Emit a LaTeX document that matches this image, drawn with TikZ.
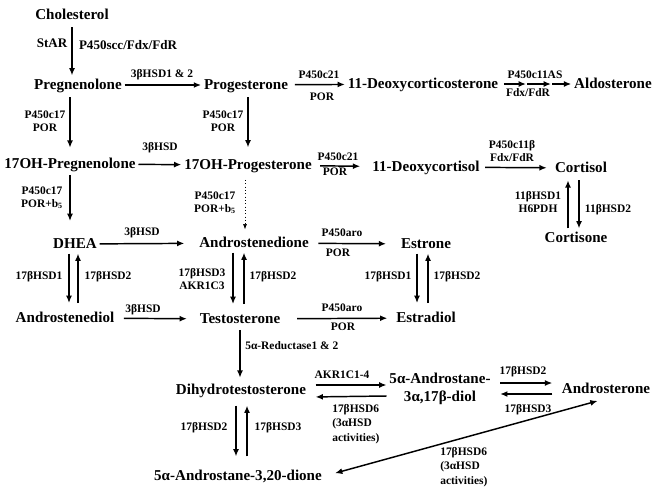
\documentclass[tikz,border=0pt]{standalone}
\usepackage{fontspec}
\setmainfont{Liberation Serif}
\usetikzlibrary{arrows.meta, positioning}

\begin{document}
\begin{tikzpicture}[
        x=0.75pt, y=-0.75pt,
        >={Latex[length=5.5pt,width=4.5pt]},
        steroid/.style={
            font=\fontsize{11.3}{13.5}\selectfont\bfseries,
            inner xsep=2pt,
            inner ysep=2pt,
            text height=8pt,
            text depth=2pt
        },
        steroidpair/.style={
            font=\fontsize{11.3}{13.5}\selectfont\bfseries,
            inner sep=2pt,
            align=center
        },
        enzyme/.style={
            font=\fontsize{8.6}{9.5}\selectfont\bfseries,
            inner sep=0pt,
            align=center
        },
        bigenzyme/.style={
            enzyme,
            font=\fontsize{9.8}{11}\selectfont\bfseries
        },
        note/.style={
            enzyme,
            font=\fontsize{8.6}{10.9}\selectfont\bfseries,
            align=left,
            anchor=west
        },
        rxn/.style={->, line width=1.1pt}
    ]
    \useasboundingbox (0,0) rectangle (656,500);

    % Steroids
    \node[steroid] (chol) at (72,15) {Cholesterol};
    \node[steroid] (preg) at (78,85) {Pregnenolone};
    \node[steroid] (prog) at (246,85) {Progesterone};
    \node[steroid] (doc) at (423,84) {11-Deoxycorticosterone};
    \node[steroid] (aldo) at (613,84) {Aldosterone};
    \node[steroid] (ohpreg) at (70,164) {17OH-Pregnenolone};
    \node[steroid] (ohprog) at (248,165) {17OH-Progesterone};
    \node[steroid] (dcort) at (426,167) {11-Deoxycortisol};
    \node[steroid] (cortisol) at (581,168) {Cortisol};
    \node[steroid] (cortisone) at (576,238) {Cortisone};
    \node[steroid] (dhea) at (75,244) {DHEA};
    \node[steroid] (andro) at (254,243) {Androstenedione};
    \node[steroid] (estrone) at (426,244) {Estrone};
    \node[steroid] (diol) at (65,318) {Androstenediol};
    \node[steroid] (testo) at (240,319) {Testosterone};
    \node[steroid] (estradiol) at (426,318) {Estradiol};
    \node[steroid] (dht) at (241,390) {Dihydrotestosterone};
    \node[steroidpair] (adiol) at (440,389) {5α-Androstane-\\3α,17β-diol};
    \node[steroid] (androst) at (606,389) {Androsterone};
    \node[steroid] (dione) at (238,476) {5α-Androstane-3,20-dione};

    % Enzymes
    \node[bigenzyme] (star) at (52,43) {StAR};
    \node[bigenzyme] (scc) at (128,45) {P450scc/Fdx/FdR};
    \node[enzyme] (hsd12) at (162,75) {3βHSD1 \& 2};
    \node[enzyme] (c21a) at (319,75) {P450c21};
    \node[enzyme] (pora) at (322,97) {POR};
    \node[enzyme] (c11as) at (535,75) {P450c11AS};
    \node[enzyme] (fdxa) at (528,93) {Fdx/FdR};
    \node[enzyme] (c17a) at (45,121) {P450c17\\POR};
    \node[enzyme] (c17b) at (223,121) {P450c17\\POR};
    \node[enzyme] (hsd3a) at (160,148) {3βHSD};
    \node[enzyme] (c21b) at (338,157) {P450c21};
    \node[enzyme] (porb) at (335,172) {POR};
    \node[enzyme] (c11b) at (512,151) {P450c11β\\Fdx/FdR};
    \node[enzyme] (c17c) at (42,198) {P450c17\\POR+b\textsubscript{5}};
    \node[enzyme] (c17d) at (215,203) {P450c17\\POR+b\textsubscript{5}};
    \node[enzyme] (hsd11a) at (538,202) {11βHSD1\\H6PDH};
    \node[enzyme] (hsd11b) at (608,210) {11βHSD2};
    \node[enzyme] (hsd3b) at (142,233) {3βHSD};
    \node[enzyme] (aroa) at (342,233) {P450aro};
    \node[enzyme] (porc) at (338,253) {POR};
    \node[enzyme] (hsd1a) at (39,277) {17βHSD1};
    \node[enzyme] (hsd2a) at (108,277) {17βHSD2};
    \node[enzyme] (akr3) at (202,279) {17βHSD3\\AKR1C3};
    \node[enzyme] (hsd2b) at (273,277) {17βHSD2};
    \node[enzyme] (hsd1b) at (388,277) {17βHSD1};
    \node[enzyme] (hsd2c) at (457,277) {17βHSD2};
    \node[enzyme] (hsd3c) at (143,310) {3βHSD};
    \node[enzyme] (arob) at (342,308) {P450aro};
    \node[enzyme] (pord) at (343,327) {POR};
    \node[enzyme, anchor=west] (red) at (245,346) {5α-Reductase1 \& 2};
    \node[enzyme] (akr14) at (342,375) {AKR1C1-4};
    \node[note] (hsd6a) at (332,424) {17βHSD6\\(3αHSD\\activities)};
    \node[enzyme] (hsd2d) at (204,428) {17βHSD2};
    \node[enzyme] (hsd3d) at (278,428) {17βHSD3};
    \node[enzyme] (hsd2e) at (523,372) {17βHSD2};
    \node[enzyme] (hsd3e) at (528,410) {17βHSD3};
    \node[note] (hsd6b) at (440,467) {17βHSD6\\(3αHSD\\activities)};

    % Arrows
    \draw[rxn, shorten <=2pt] (chol.south) -- (chol.south |- preg.north);
    \draw[rxn] (preg) -- (prog);
    \draw[rxn, shorten <=3pt] (prog) -- (doc);
    \coordinate (c11x) at (526,84);
    \coordinate (c11y) at (551,84);
    \draw[rxn, shorten <=2pt] (doc) -- (c11x);
    \draw[rxn, shorten <=1pt] (c11x) -- (c11y);
    \draw[rxn, shorten <=1pt] (c11y) -- (aldo);

    \draw[rxn, shorten <=2pt, shorten >=5pt] (preg.south -| ohpreg) -- (ohpreg.north);
    \draw[rxn, shorten <=2pt, shorten >=6pt] (prog.south -| ohprog) -- (ohprog.north);
    \draw[rxn] (ohpreg) -- (ohprog);
    \draw[rxn, shorten <=4pt, shorten >=7pt] (ohprog) -- (dcort);
    \draw[rxn, shorten <=2pt, shorten >=4pt] (dcort) -- (cortisol);
    \draw[rxn, shorten <=2pt] ([xshift=-1.5pt]cortisol.south) -- ([xshift=2.25pt]cortisone.north);
    \draw[rxn, shorten >=2pt] ([xshift=-6pt]cortisone.north) -- ([xshift=-9.75pt]cortisol.south);

    \draw[rxn, shorten <=1pt, shorten >=10pt] (ohpreg.south) -- (ohpreg.south |- dhea.north);
    \draw[->, line width=0.5pt, dotted, >={Latex[length=4pt,width=3pt]}, shorten <=4pt, shorten >=3pt]
        ([xshift=-2.25pt]ohprog.south) -- ([xshift=-6.75pt]andro.north);
    \draw[rxn, shorten >=9pt] (dhea) -- (andro);
    \draw[rxn, shorten <=5pt, shorten >=9pt] (andro) -- (estrone);

    \draw[rxn, shorten >=4pt] ([xshift=-4.5pt]dhea.south) -- ([xshift=3pt]diol.north);
    \draw[rxn, shorten <=4pt] ([xshift=9.75pt]diol.north) -- ([xshift=2.25pt]dhea.south);
    \draw[rxn, shorten >=4pt] ([xshift=-15.75pt]andro.south) -- ([xshift=-5.25pt]testo.north);
    \draw[rxn, shorten <=4pt] ([xshift=3pt]testo.north) -- ([xshift=-7.5pt]andro.south);
    \draw[rxn, shorten >=4pt] ([xshift=-6.75pt]estrone.south) -- ([xshift=-6.75pt]estradiol.north);
    \draw[rxn, shorten <=4pt] ([xshift=1.5pt]estradiol.north) -- ([xshift=1.5pt]estrone.south);

    \draw[rxn, shorten <=5pt, shorten >=7.5pt] (diol) -- (testo);
    \draw[rxn, shorten <=10.5pt, shorten >=4.5pt] (testo) -- (estradiol);
    \draw[rxn, shorten <=1pt, shorten >=2pt] (testo.south) -- (testo.south |- dht.north);

    \draw[rxn, shorten <=5pt] ([yshift=3.75pt]dht.east) -- ([yshift=3pt]adiol.west);
    \draw[rxn, shorten >=5pt] ([yshift=-5.25pt]adiol.west) -- ([yshift=-5.25pt]dht.east);
    \draw[rxn, shorten <=5pt, shorten >=5pt] ([yshift=4.5pt]adiol.east) -- ([yshift=4.5pt]androst.west);
    \draw[rxn, shorten <=5pt, shorten >=5pt] ([yshift=-3.75pt]androst.west) -- ([yshift=-3.75pt]adiol.east);
    \draw[rxn, shorten <=4.5pt, shorten >=7.5pt] ([xshift=-3.75pt]dht.south) -- ([xshift=-1.5pt]dione.north);
    \draw[rxn, shorten <=7.5pt, shorten >=4.5pt] ([xshift=6.75pt]dione.north) -- ([xshift=4.5pt]dht.south);
    \draw[rxn, <->, shorten <=8pt, shorten >=6.5pt] (dione.east) -- (androst.south);

\end{tikzpicture}
\end{document}
